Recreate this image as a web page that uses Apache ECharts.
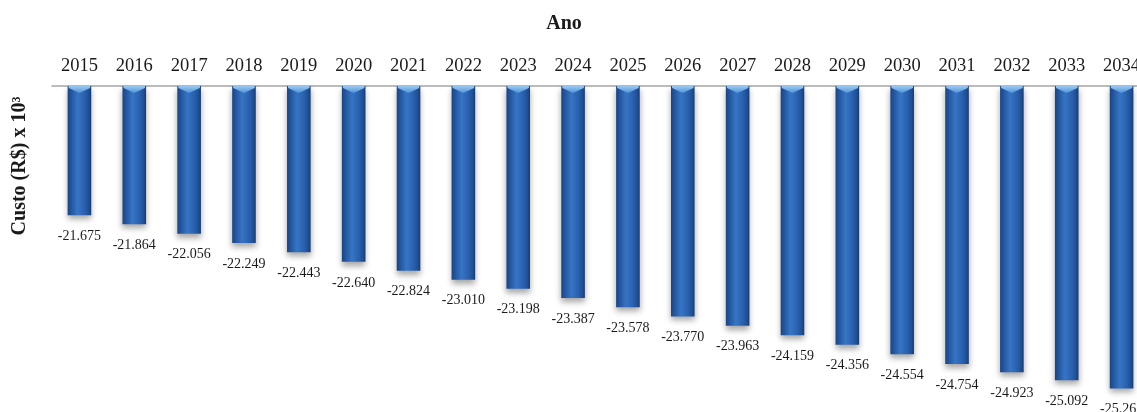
<!DOCTYPE html>
<html>
<head>
<meta charset="utf-8">
<title>Custo anual</title>
<script src="https://cdn.jsdelivr.net/npm/echarts@6/dist/echarts.min.js"></script>
<style>
  html, body { margin: 0; padding: 0; background: #ffffff; overflow: hidden; }
  /* a área do gráfico continua além da borda direita da página */
  #chart { width: 1149px; height: 412px; }
</style>
</head>
<body>
<div id="chart"></div>
<script>
// Anos e custo anual (R$ x 10³)
var years = ['2015', '2016', '2017', '2018', '2019', '2020', '2021', '2022', '2023', '2024',
             '2025', '2026', '2027', '2028', '2029', '2030', '2031', '2032', '2033', '2034'];
var costs = [-21.675, -21.864, -22.056, -22.249, -22.443, -22.640, -22.824, -23.010, -23.198, -23.387,
             -23.578, -23.770, -23.963, -24.159, -24.356, -24.554, -24.754, -24.923, -25.092, -25.261];

var axisTop = -19;     // valor no topo do eixo (origem das barras)
var axisBottom = -25.5;

var SERIF = '"Liberation Serif", "DejaVu Serif", "Times New Roman", serif';

var chart = echarts.init(document.getElementById('chart'), null, { renderer: 'canvas' });

var bodyGradient = new echarts.graphic.LinearGradient(0, 0, 1, 0, [
  { offset: 0, color: '#1a4482' },
  { offset: 0.18, color: '#2559a3' },
  { offset: 0.42, color: '#3675c4' },
  { offset: 0.7, color: '#2a62b0' },
  { offset: 0.9, color: '#1f4f94' },
  { offset: 1, color: '#163a70' }
]);
var capGradient = new echarts.graphic.LinearGradient(0, 0, 0, 1, [
  { offset: 0, color: '#9ccaf2' },
  { offset: 1, color: '#4f92d8' }
]);

function renderBar(params, api) {
  var idx = api.value(0);
  var val = api.value(1);
  var top = api.coord([idx, axisTop]);
  var bottom = api.coord([idx, val]);
  var w = api.size([1, 0])[0] * 0.43;
  var x0 = top[0] - w / 2;
  var x1 = top[0] + w / 2;
  var y0 = top[1];
  var y1 = bottom[1];
  return {
    type: 'group',
    children: [
      {
        type: 'rect',
        shape: { x: x0, y: y0, width: w, height: y1 - y0 },
        style: {
          fill: bodyGradient,
          shadowColor: 'rgba(0,0,0,0.35)',
          shadowBlur: 6,
          shadowOffsetY: 4
        }
      },
      {
        type: 'polygon',
        shape: {
          points: [[x0 + 1, y0], [x1 - 1, y0], [x1 - 1, y0 + 2], [top[0], y0 + 7], [x0 + 1, y0 + 2]]
        },
        style: { fill: capGradient }
      },
      {
        type: 'text',
        x: top[0],
        y: y1 + 21,
        style: {
          text: val.toFixed(3),
          fill: '#1a1a1a',
          font: '14px ' + SERIF,
          align: 'center',
          verticalAlign: 'middle'
        }
      }
    ]
  };
}

chart.setOption({
  animation: false,
  backgroundColor: '#ffffff',
  grid: { left: 52, top: 86, right: 0, height: 314 },
  xAxis: {
    type: 'category',
    position: 'top',
    data: years,
    axisLine: { show: true, onZero: false, lineStyle: { color: '#a6a6a6', width: 1.5 } },
    axisTick: { show: false },
    axisLabel: { color: '#1a1a1a', fontFamily: SERIF, fontSize: 18.5, margin: 10 }
  },
  yAxis: {
    type: 'value',
    min: axisBottom,
    max: axisTop,
    show: false
  },
  graphic: [
    {
      type: 'text',
      x: 564, y: 24,
      style: {
        text: 'Ano',
        font: 'bold 20px ' + SERIF,
        fill: '#1a1a1a',
        align: 'center',
        verticalAlign: 'middle'
      }
    },
    {
      type: 'text',
      x: 20, y: 166,
      rotation: Math.PI / 2,
      style: {
        text: 'Custo (R$) x 10³',
        font: 'bold 20px ' + SERIF,
        fill: '#1a1a1a',
        align: 'center',
        verticalAlign: 'middle'
      }
    }
  ],
  series: [{
    type: 'custom',
    renderItem: renderBar,
    clip: false,
    encode: { x: 0, y: 1 },
    data: years.map(function (y, i) { return [i, costs[i]]; })
  }]
});
</script>
</body>
</html>
